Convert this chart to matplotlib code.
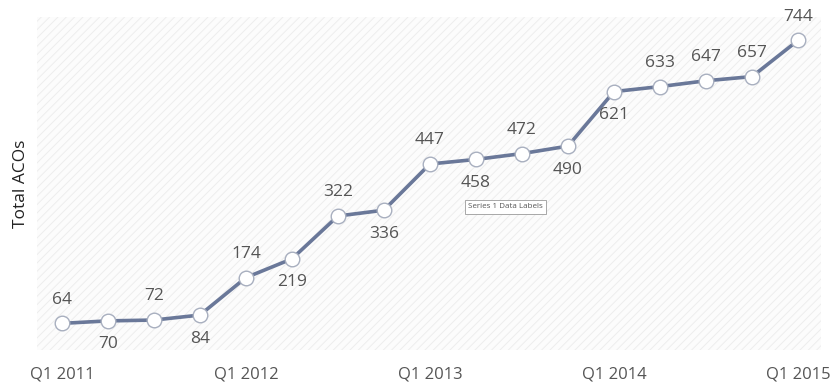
import matplotlib.pyplot as plt
from matplotlib.patches import Rectangle

quarters = ["Q1 2011", "Q2 2011", "Q3 2011", "Q4 2011",
            "Q1 2012", "Q2 2012", "Q3 2012", "Q4 2012",
            "Q1 2013", "Q2 2013", "Q3 2013", "Q4 2013",
            "Q1 2014", "Q2 2014", "Q3 2014", "Q4 2014",
            "Q1 2015"]
total_acos = [64, 70, 72, 84, 174, 219, 322, 336, 447, 458, 472, 490,
              621, 633, 647, 657, 744]
# label placement per point: 1 = above, -1 = below
label_side = [1, -1, 1, -1, 1, -1, 1, -1, 1, -1, 1, -1, -1, 1, 1, 1, 1]
tick_labels = ["Q1 2011", "Q1 2012", "Q1 2013", "Q1 2014", "Q1 2015"]

plt.rcParams['font.family'] = ['Open Sans', 'DejaVu Sans']
plt.rcParams['hatch.linewidth'] = 0.7
text_color = '#555555'

fig = plt.figure(figsize=(8.31, 3.84), dpi=100)
ax = fig.add_axes([0.0445, 0.0885, 0.9435, 0.867])

x = list(range(len(total_acos)))
ax.set_xlim(-0.54, 16.5)
ax.set_ylim(0, 800)

# striped plot background
ax.add_patch(Rectangle((0, 0), 1, 1, transform=ax.transAxes, facecolor='#fcfcfc',
                       edgecolor='#ededed', hatch='////', linewidth=0, zorder=0))

ax.plot(x, total_acos, color='#6a7899', linewidth=2.6, zorder=2,
        marker='o', markersize=10.5, markerfacecolor='white',
        markeredgecolor='#a8afbf', markeredgewidth=1.0)

for xi, v, side in zip(x, total_acos, label_side):
    ax.annotate(str(v), (xi, v), xytext=(0, 17 * side), textcoords='offset points',
                ha='center', va='center', fontsize=12.5, color=text_color)

ax.set_xticks([quarters.index(t) for t in tick_labels])
ax.set_xticklabels(tick_labels, fontsize=12, color=text_color)
ax.tick_params(axis='x', length=0, pad=12)
ax.set_yticks([])
ax.set_ylabel("Total ACOs", fontsize=12.5, color='#222222', labelpad=6)
for s in ax.spines.values():
    s.set_visible(False)

# hover tooltip on the data labels
ax.text(9.65, 344, "Series 1 Data Labels", ha='center', va='center', fontsize=5.8,
        color='#555555',
        bbox=dict(boxstyle='square,pad=0.4', facecolor='white', edgecolor='#9a9a9a',
                  linewidth=0.6))

fig.savefig('out.png', dpi=100)
